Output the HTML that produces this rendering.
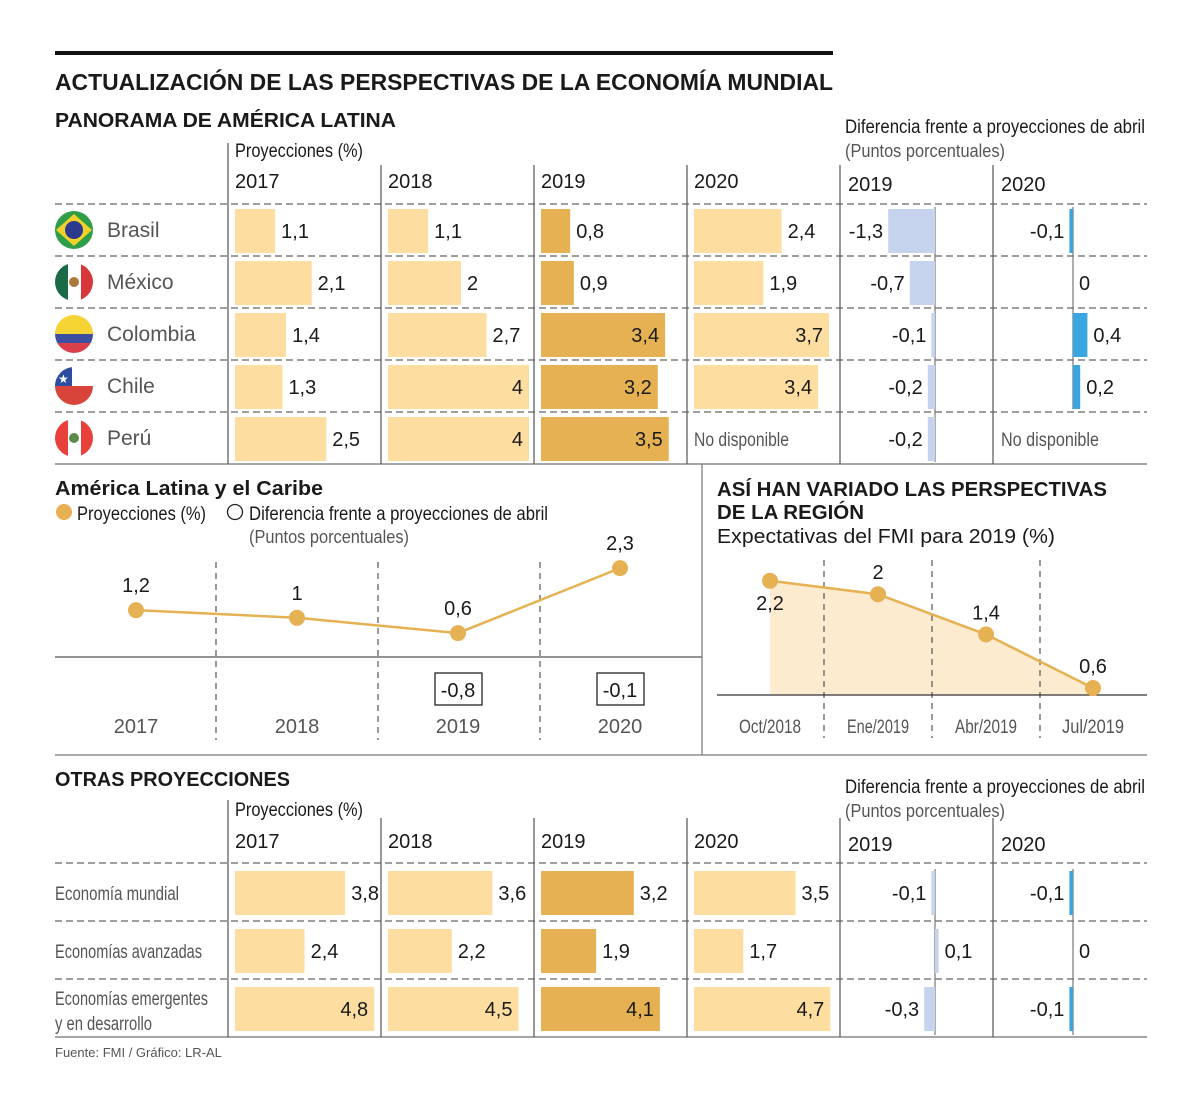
<!DOCTYPE html>
<html><head><meta charset="utf-8">
<style>
html,body{margin:0;padding:0;background:#fff;}
svg{display:block;}
text{font-family:"Liberation Sans",sans-serif;fill:#1a1a1a;}
.b{font-weight:bold;}
.n{font-family:"Liberation Sans Narrow","Liberation Sans",sans-serif;}
.g{fill:#555;}
</style></head>
<body>
<svg id="root" width="1200" height="1110" viewBox="0 0 1200 1110" xmlns="http://www.w3.org/2000/svg">
<rect x="55" y="51" width="778" height="4" fill="#111"/>
<text x="55" y="90" class="b" font-size="23" textLength="778" lengthAdjust="spacingAndGlyphs">ACTUALIZACIÓN DE LAS PERSPECTIVAS DE LA ECONOMÍA MUNDIAL</text>
<text x="55" y="127" class="b" font-size="20" textLength="341" lengthAdjust="spacingAndGlyphs">PANORAMA DE AMÉRICA LATINA</text>
<text x="235" y="157" class="n" font-size="19" textLength="128" lengthAdjust="spacingAndGlyphs">Proyecciones (%)</text>
<text x="845" y="133" class="n" font-size="19" textLength="300" lengthAdjust="spacingAndGlyphs">Diferencia frente a proyecciones de abril</text>
<text x="845" y="157" class="n g" font-size="18" textLength="160" lengthAdjust="spacingAndGlyphs">(Puntos porcentuales)</text>
<g id="top-years" font-size="20">
<text x="235" y="188">2017</text>
<text x="388" y="188">2018</text>
<text x="541" y="188">2019</text>
<text x="694" y="188">2020</text>
<text x="848" y="191">2019</text>
<text x="1001" y="191">2020</text>
</g>
<g id="flags">
<defs>
<clipPath id="c0"><circle cx="74" cy="230" r="19"/></clipPath>
<clipPath id="c1"><circle cx="74" cy="282" r="19"/></clipPath>
<clipPath id="c2"><circle cx="74" cy="334" r="19"/></clipPath>
<clipPath id="c3"><circle cx="74" cy="386" r="19"/></clipPath>
<clipPath id="c4"><circle cx="74" cy="438" r="19"/></clipPath>
</defs>
<g clip-path="url(#c0)"><rect x="55" y="211" width="38" height="38" fill="#2f9e48"/><polygon points="74,214 92,230 74,246 56,230" fill="#f2d22a"/><circle cx="74" cy="230" r="9" fill="#2a3a8c"/></g>
<g clip-path="url(#c1)"><rect x="55" y="263" width="13" height="38" fill="#1a6b45"/><rect x="68" y="263" width="13" height="38" fill="#fff"/><rect x="81" y="263" width="13" height="38" fill="#d8373c"/><circle cx="74" cy="282" r="5" fill="#a87a3c"/></g>
<g clip-path="url(#c2)"><rect x="55" y="315" width="38" height="19" fill="#f5d433"/><rect x="55" y="334" width="38" height="9" fill="#3b4ea0"/><rect x="55" y="343" width="38" height="10" fill="#d93f4a"/></g>
<g clip-path="url(#c3)"><rect x="55" y="367" width="38" height="19" fill="#fff"/><rect x="55" y="386" width="38" height="19" fill="#d8443a"/><rect x="55" y="367" width="17" height="19" fill="#2c4da0"/><text x="58" y="383" font-size="12" style="fill:#fff">★</text></g>
<g clip-path="url(#c4)"><rect x="55" y="419" width="13" height="38" fill="#e8403a"/><rect x="68" y="419" width="13" height="38" fill="#fff"/><rect x="81" y="419" width="13" height="38" fill="#e8403a"/><circle cx="74" cy="438" r="5" fill="#5c8a4a"/></g>
</g>
<g id="top-table"></g>

<text x="55" y="495" class="b" font-size="20" textLength="268" lengthAdjust="spacingAndGlyphs">América Latina y el Caribe</text>
<circle cx="64" cy="512" r="8" fill="#e6b152"/>
<text x="77" y="520" class="n" font-size="19" textLength="129" lengthAdjust="spacingAndGlyphs">Proyecciones (%)</text>
<circle cx="235" cy="512" r="7.5" fill="none" stroke="#222" stroke-width="1.3"/>
<text x="249" y="520" class="n" font-size="19" textLength="299" lengthAdjust="spacingAndGlyphs">Diferencia frente a proyecciones de abril</text>
<text x="249" y="543" class="n g" font-size="18" textLength="160" lengthAdjust="spacingAndGlyphs">(Puntos porcentuales)</text>
<g id="latam-chart"></g>

<line x1="702" y1="464" x2="702" y2="755" stroke="#777" stroke-width="1.2"/>
<line x1="55" y1="755" x2="1147" y2="755" stroke="#777" stroke-width="1.2"/>

<text x="717" y="496" class="b" font-size="20" textLength="390" lengthAdjust="spacingAndGlyphs">ASÍ HAN VARIADO LAS PERSPECTIVAS</text>
<text x="717" y="519" class="b" font-size="20" textLength="147" lengthAdjust="spacingAndGlyphs">DE LA REGIÓN</text>
<text x="717" y="543" font-size="20" textLength="338" lengthAdjust="spacingAndGlyphs">Expectativas del FMI para 2019 (%)</text>
<g id="region-chart"></g>

<text x="55" y="786" class="b" font-size="20" textLength="235" lengthAdjust="spacingAndGlyphs">OTRAS PROYECCIONES</text>
<text x="235" y="816" class="n" font-size="19" textLength="128" lengthAdjust="spacingAndGlyphs">Proyecciones (%)</text>
<text x="845" y="793" class="n" font-size="19" textLength="300" lengthAdjust="spacingAndGlyphs">Diferencia frente a proyecciones de abril</text>
<text x="845" y="817" class="n g" font-size="18" textLength="160" lengthAdjust="spacingAndGlyphs">(Puntos porcentuales)</text>
<g font-size="20">
<text x="235" y="848">2017</text>
<text x="388" y="848">2018</text>
<text x="541" y="848">2019</text>
<text x="694" y="848">2020</text>
<text x="848" y="851">2019</text>
<text x="1001" y="851">2020</text>
</g>
<g class="n" font-size="19">
<text x="55" y="900" class="n g" textLength="124" lengthAdjust="spacingAndGlyphs">Economía mundial</text>
<text x="55" y="958" class="n g" textLength="147" lengthAdjust="spacingAndGlyphs">Economías avanzadas</text>
<text x="55" y="1005" class="n g" textLength="153" lengthAdjust="spacingAndGlyphs">Economías emergentes</text>
<text x="55" y="1030" class="n g" textLength="97" lengthAdjust="spacingAndGlyphs">y en desarrollo</text>
</g>
<g id="bottom-table"></g>
<text x="55" y="1057" font-size="13" class="g">Fuente: FMI / Gráfico: LR-AL</text>
</svg>

<script>
var countries = ['Brasil','México','Colombia','Chile','Perú'];
var latP2017 = [1.1,2.1,1.4,1.3,2.5];
var latP2018 = [1.1,2,2.7,4,4];
var latP2019 = [0.8,0.9,3.4,3.2,3.5];
var latP2020 = [2.4,1.9,3.7,3.4,null];
var latD2019 = [-1.3,-0.7,-0.1,-0.2,-0.2];
var latD2020 = [-0.1,0,0.4,0.2,null];

var economies = ['Economía mundial','Economías avanzadas','Economías emergentes y en desarrollo'];
var ecoP2017 = [3.8,2.4,4.8];
var ecoP2018 = [3.6,2.2,4.5];
var ecoP2019 = [3.2,1.9,4.1];
var ecoP2020 = [3.5,1.7,4.7];
var ecoD2019 = [-0.1,0.1,-0.3];
var ecoD2020 = [-0.1,0,-0.1];

var latamYears = ['2017','2018','2019','2020'];
var latamValues = [1.2,1,0.6,2.3];
var latamDiffs = [null,null,-0.8,-0.1];

var regionDates = ['Oct/2018','Ene/2019','Abr/2019','Jul/2019'];
var regionValues = [2.2,2,1.4,0.6];

var NS = 'http://www.w3.org/2000/svg';
function mk(parent, tag, attrs){
  var e = document.createElementNS(NS, tag);
  for (var k in attrs) e.setAttribute(k, attrs[k]);
  parent.appendChild(e);
  return e;
}
function fmt(v){ return String(v).replace('.', ','); }
var LIGHT = '#fddea0', DARK = '#e6b152', BLUEL = '#c5d3ec', BLUE = '#3aa6df';

function buildTable(g, rowTops, rowH, bottom, colTop1, colTop2, barPad, barH, scale, thresh, series, diffs, diffScale, colFills){
  var colX = [228,381,534,687,840,993];
  for (var i=0;i<rowTops.length;i++){
    var l = mk(g,'line',{x1:55,x2:1147,y1:rowTops[i],y2:rowTops[i],stroke:'#666','stroke-width':1.3,'stroke-dasharray':'7,4'});
    
    
  }
  var bl = mk(g,'line',{x1:55,x2:1147,y1:bottom,y2:bottom,stroke:'#888','stroke-width':1.5});
  
  
  for (var c=0;c<colX.length;c++){
    var cl = mk(g,'line',{x1:colX[c],x2:colX[c],y1:(c==0?colTop1:colTop2),y2:bottom,stroke:'#555','stroke-width':1.2});
    
    
  }
  for (var s=0;s<series.length;s++){
    var x0 = colX[s]+7;
    var maxW = 141;
    for (var r=0;r<series[s].length;r++){
      var v = series[s][r];
      var top = rowTops[r]+barPad;
      if (v===null){
        var na = mk(g,'text',{x:x0,y:top+barH/2+7,'font-size':19,'class':'n g',textLength:95,lengthAdjust:'spacingAndGlyphs'});
        na.textContent = 'No disponible';
        
        
        continue;
      }
      var w = Math.min(v*scale, maxW);
      var b = mk(g,'rect',{x:x0,y:top,width:w,height:barH,fill:colFills[s]});
      
      
      var inside = v>=thresh;
      var t = mk(g,'text',{x: inside ? x0+w-6 : x0+w+6, y: top+barH/2+7,'font-size':20,'text-anchor': inside?'end':'start'});
      t.textContent = fmt(v);
      
      
    }
  }
  var axes = [935,1073];
  var dfill = [BLUEL, BLUE];
  for (var d=0; d<diffs.length; d++){
    var ax = axes[d];
    var lastRow = -1;
    for (var q=0;q<diffs[d].length;q++){ if (diffs[d][q]!==null) lastRow = q; }
    var axEnd = lastRow===rowTops.length-1 ? bottom-2 : rowTops[lastRow]+barPad+barH;
    var al = mk(g,'line',{x1:ax,x2:ax,y1:rowTops[0]+barPad-2,y2:axEnd,stroke:'#777','stroke-width':1.2});
    
    
    for (var r2=0;r2<diffs[d].length;r2++){
      var dv = diffs[d][r2];
      var top2 = rowTops[r2]+barPad;
      if (dv===null){
        var na2 = mk(g,'text',{x:colX[4+d]+8,y:top2+barH/2+7,'font-size':19,'class':'n g',textLength:98,lengthAdjust:'spacingAndGlyphs'});
        na2.textContent = 'No disponible';
        
        
        continue;
      }
      var dw = Math.abs(dv)*diffScale;
      var bx = dv<0 ? ax-dw : ax;
      if (dv!==0){
        var db = mk(g,'rect',{x:bx,y:top2,width:dw,height:barH,fill:dfill[d]});
        
        
      }
      var dt;
      if (dv<0) dt = mk(g,'text',{x:bx-5,y:top2+barH/2+7,'font-size':20,'text-anchor':'end'});
      else dt = mk(g,'text',{x:ax+dw+6,y:top2+barH/2+7,'font-size':20});
      dt.textContent = fmt(dv);
      
      
    }
  }
}

buildTable(document.getElementById('top-table'), [204,256,308,360,412], 52, 464, 143, 165, 5, 44, 36.5, 3,
  [latP2017,latP2018,latP2019,latP2020],[latD2019,latD2020],36,[LIGHT,LIGHT,DARK,LIGHT]);
buildTable(document.getElementById('bottom-table'), [863,921,979], 58, 1037, 800, 818, 8, 44, 29, 4,
  [ecoP2017,ecoP2018,ecoP2019,ecoP2020],[ecoD2019,ecoD2020],36,[LIGHT,LIGHT,DARK,LIGHT]);

(function(){
  var g = document.getElementById('top-table');
  for (var i=0;i<countries.length;i++){
    var t = mk(g,'text',{x:107,y:237+i*52,'font-size':21,'class':'g'});
    t.textContent = countries[i];
    
    
  }
})();

(function(){
  var g = document.getElementById('latam-chart');
  var xs = [136,297,458,620];
  function y(v){ return 656 - v*38.2; }
  var base = mk(g,'line',{x1:55,x2:702,y1:657,y2:657,stroke:'#555','stroke-width':1.2});
  
  
  [216,378,540].forEach(function(x){
    var d = mk(g,'line',{x1:x,x2:x,y1:562,y2:740,stroke:'#555','stroke-width':1.2,'stroke-dasharray':'6,5'});
    
    
  });
  var pts = latamValues.map(function(v,i){ return xs[i]+','+y(v); }).join(' ');
  var pl = mk(g,'polyline',{points:pts,fill:'none',stroke:'#e6b152','stroke-width':2.5});
  
  
  latamValues.forEach(function(v,i){
    var c = mk(g,'circle',{cx:xs[i],cy:y(v),r:8,fill:'#e6b152'});
    
    
    var t = mk(g,'text',{x:xs[i],y:y(v)-18,'font-size':20,'text-anchor':'middle'});
    t.textContent = fmt(v);
    
    
    var yl = mk(g,'text',{x:xs[i],y:733,'font-size':20,'text-anchor':'middle','class':'g'});
    yl.textContent = latamYears[i];
    
    
    if (latamDiffs[i]!==null){
      var bx = mk(g,'rect',{x:xs[i]-23,y:673,width:47,height:32,fill:'#fff',stroke:'#222','stroke-width':1.3});
      
      
      var dt = mk(g,'text',{x:xs[i],y:697,'font-size':20,'text-anchor':'middle'});
      dt.textContent = fmt(latamDiffs[i]);
      
      
    }
  });
})();

(function(){
  var g = document.getElementById('region-chart');
  var xs = [770,878,986,1093];
  function y(v){ return 688 - (v-0.6)*67; }
  var pts = regionValues.map(function(v,i){ return xs[i]+','+y(v); });
  var area = mk(g,'polygon',{points: xs[0]+',695 '+pts.join(' ')+' '+xs[3]+',695', fill:'#fdebd0'});
  
  
  [824,932,1040].forEach(function(x){
    var d = mk(g,'line',{x1:x,x2:x,y1:560,y2:738,stroke:'#555','stroke-width':1.2,'stroke-dasharray':'6,5'});
    
    
  });
  var ax = mk(g,'line',{x1:717,x2:1147,y1:695,y2:695,stroke:'#333','stroke-width':1.2});
  
  
  var pl = mk(g,'polyline',{points:pts.join(' '),fill:'none',stroke:'#e6b152','stroke-width':2.5});
  
  
  regionValues.forEach(function(v,i){
    var c = mk(g,'circle',{cx:xs[i],cy:y(v),r:8,fill:'#e6b152'});
    
    
    var below = i===0;
    var t = mk(g,'text',{x:xs[i],y: below ? y(v)+29 : y(v)-15,'font-size':20,'text-anchor':'middle'});
    t.textContent = fmt(v);
    
    
    var dl = mk(g,'text',{x:xs[i],y:733,'font-size':19,'text-anchor':'middle','class':'n g',textLength:62,lengthAdjust:'spacingAndGlyphs'});
    dl.textContent = regionDates[i];
    
    
  });
})();
</script>
</body></html>
